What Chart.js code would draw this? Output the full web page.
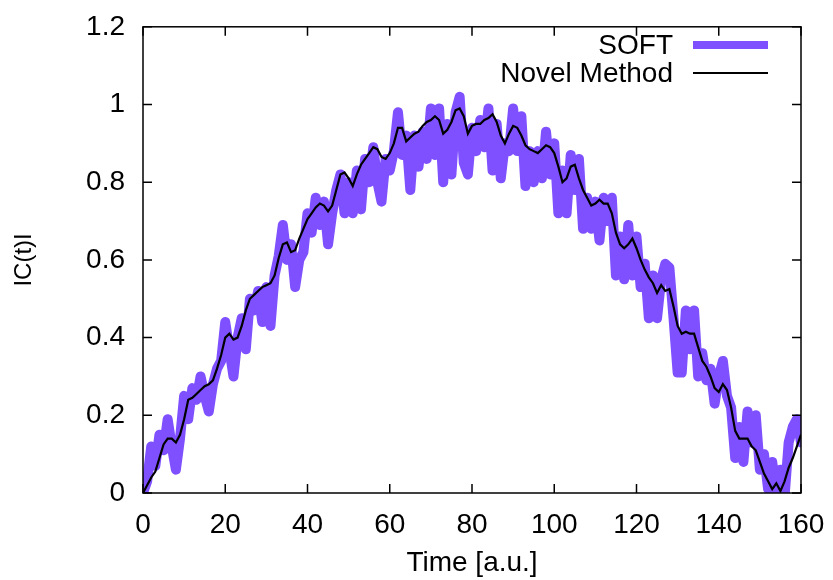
<!DOCTYPE html>
<html>
<head>
<meta charset="utf-8">
<script src="https://cdn.jsdelivr.net/npm/chart.js@4"></script>
<style>
  html, body { margin: 0; padding: 0; background: #fff; }
  #wrap { width: 833px; height: 580px; }
</style>
</head>
<body>
<div id="wrap"><canvas id="myChart"></canvas></div>
<script>
// ==============================|| DATA ||============================== //
const timeValues = [
  0,1,2,3,4,5,6,7,8,9,10,11,12,13,14,15,16,17,18,19,
  20,21,22,23,24,25,26,27,28,29,30,31,32,33,34,35,36,37,38,39,
  40,41,42,43,44,45,46,47,48,49,50,51,52,53,54,55,56,57,58,59,
  60,61,62,63,64,65,66,67,68,69,70,71,72,73,74,75,76,77,78,79,
  80,81,82,83,84,85,86,87,88,89,90,91,92,93,94,95,96,97,98,99,
  100,101,102,103,104,105,106,107,108,109,110,111,112,113,114,115,116,117,118,119,
  120,121,122,123,124,125,126,127,128,129,130,131,132,133,134,135,136,137,138,139,
  140,141,142,143,144,145,146,147,148,149,150,151,152,153,154,155,156,157,158,159,160
];

// SOFT flickers quickly between an upper and a lower level, which reads as a band
const softValues = [
  0.0,0.03,0.12,0.07,0.15,0.11,0.19,0.12,0.06,0.14,
  0.25,0.19,0.27,0.24,0.3,0.25,0.21,0.28,0.32,0.34,
  0.44,0.37,0.3,0.4,0.45,0.37,0.5,0.47,0.52,0.44,
  0.53,0.43,0.56,0.61,0.69,0.6,0.64,0.53,0.6,0.62,
  0.72,0.67,0.76,0.69,0.75,0.64,0.72,0.78,0.82,0.72,
  0.8,0.72,0.83,0.73,0.86,0.8,0.89,0.8,0.75,0.86,
  0.83,0.88,0.98,0.87,0.92,0.78,0.92,0.84,0.93,0.86,
  0.99,0.87,0.99,0.8,0.95,0.82,0.98,1.02,0.85,0.82,
  0.94,0.88,0.96,0.89,0.99,0.83,0.95,0.81,0.9,0.88,
  0.99,0.88,0.97,0.79,0.88,0.8,0.88,0.81,0.93,0.82,
  0.9,0.72,0.83,0.72,0.87,0.78,0.86,0.68,0.76,0.68,
  0.75,0.65,0.76,0.7,0.76,0.56,0.66,0.55,0.69,0.56,
  0.66,0.53,0.59,0.45,0.56,0.45,0.55,0.59,0.58,0.45,
  0.31,0.31,0.47,0.37,0.47,0.3,0.36,0.29,0.32,0.23,
  0.3,0.34,0.25,0.22,0.09,0.17,0.08,0.21,0.13,0.2,
  0.06,0.1,0.01,0.08,0.0,0.06,-0.01,0.13,0.17,0.19,0.13
];

const novelValues = [
  0.0,0.02,0.04,0.055,0.09,0.125,0.14,0.14,0.13,0.15,
  0.19,0.24,0.245,0.255,0.265,0.275,0.28,0.29,0.32,0.355,
  0.4,0.41,0.395,0.4,0.43,0.47,0.5,0.51,0.52,0.53,
  0.535,0.54,0.56,0.605,0.64,0.645,0.62,0.625,0.655,0.68,
  0.705,0.72,0.735,0.745,0.74,0.725,0.74,0.78,0.82,0.825,
  0.81,0.79,0.82,0.845,0.86,0.875,0.89,0.885,0.865,0.86,
  0.875,0.9,0.94,0.94,0.905,0.915,0.925,0.93,0.945,0.955,
  0.96,0.97,0.96,0.925,0.935,0.955,0.985,0.99,0.97,0.925,
  0.945,0.95,0.95,0.96,0.965,0.975,0.955,0.92,0.9,0.925,
  0.945,0.94,0.92,0.895,0.885,0.88,0.875,0.885,0.895,0.89,
  0.875,0.84,0.8,0.81,0.84,0.845,0.81,0.78,0.76,0.74,
  0.745,0.755,0.745,0.745,0.72,0.67,0.64,0.63,0.64,0.655,
  0.63,0.6,0.575,0.555,0.54,0.515,0.535,0.52,0.525,0.48,
  0.43,0.41,0.415,0.41,0.41,0.375,0.34,0.325,0.3,0.27,
  0.26,0.28,0.265,0.22,0.16,0.14,0.14,0.14,0.12,0.11,
  0.08,0.05,0.03,0.01,0.025,0.005,0.03,0.065,0.09,0.12,0.15
];

const xTickLabels = ['0', '20', '40', '60', '80', '100', '120', '140', '160'];
const yTickLabels = ['0', '0.2', '0.4', '0.6', '0.8', '1', '1.2'];

// constant
const FONT = 'Liberation Sans, Arial, Helvetica, sans-serif';
const SOFT_COLOR = '#7f50ff';

const toPoints = (xs, ys) => xs.map((x, i) => ({ x: x, y: ys[i] }));

// ==============================|| FRAME, INWARD TICKS & LEGEND ||============================== //
const framePlugin = {
  id: 'frame',
  afterDatasetsDraw(chart) {
    const { ctx, chartArea: a, scales } = chart;
    const tl = 9;
    ctx.save();
    ctx.strokeStyle = '#000';
    ctx.lineWidth = 1.5;
    ctx.strokeRect(a.left, a.top, a.right - a.left, a.bottom - a.top);
    ctx.beginPath();
    scales.x.ticks.forEach(t => {
      const px = scales.x.getPixelForValue(t.value);
      ctx.moveTo(px, a.bottom); ctx.lineTo(px, a.bottom - tl);
      ctx.moveTo(px, a.top); ctx.lineTo(px, a.top + tl);
    });
    scales.y.ticks.forEach(t => {
      const py = scales.y.getPixelForValue(t.value);
      ctx.moveTo(a.left, py); ctx.lineTo(a.left + tl, py);
      ctx.moveTo(a.right, py); ctx.lineTo(a.right - tl, py);
    });
    ctx.stroke();

    // legend, gnuplot style: text right-aligned, sample to the right
    const textRight = 673, sx0 = 693, sx1 = 768;
    ctx.font = '28px ' + FONT;
    ctx.textAlign = 'right';
    ctx.textBaseline = 'middle';
    ctx.fillStyle = '#000';
    chart.data.datasets.forEach((ds, i) => {
      const y = 45 + i * 28;
      ctx.fillText(ds.label, textRight, y + 1);
      ctx.beginPath();
      ctx.strokeStyle = ds.borderColor;
      ctx.lineWidth = ds.legendWidth;
      ctx.moveTo(sx0, y); ctx.lineTo(sx1, y);
      ctx.stroke();
    });
    ctx.restore();
  }
};

// ==============================|| CHART ||============================== //
new Chart(document.getElementById('myChart'), {
  type: 'line',
  data: {
    datasets: [
      {
        label: 'SOFT',
        data: toPoints(timeValues, softValues),
        borderColor: SOFT_COLOR,
        borderWidth: 10,
        legendWidth: 8,
        pointRadius: 0,
        tension: 0,
        borderJoinStyle: 'round',
        borderCapStyle: 'round',
        order: 2
      },
      {
        label: 'Novel Method',
        data: toPoints(timeValues, novelValues),
        borderColor: '#000000',
        borderWidth: 2.2,
        legendWidth: 2,
        pointRadius: 0,
        tension: 0,
        order: 1
      }
    ]
  },
  options: {
    responsive: true,
    maintainAspectRatio: false,
    animation: false,
    layout: { padding: { top: 17, right: 32, left: 0, bottom: 0 } },
    plugins: {
      legend: { display: false },
      tooltip: { enabled: false }
    },
    scales: {
      x: {
        type: 'linear',
        min: 0,
        max: 160,
        grid: { display: false },
        border: { display: false },
        ticks: {
          stepSize: 20,
          padding: 7,
          color: '#000',
          font: { family: FONT, size: 28 },
          callback: (v, i) => xTickLabels[i]
        },
        title: {
          display: true,
          text: 'Time [a.u.]',
          color: '#000',
          font: { family: FONT, size: 28 },
          padding: { top: 0, bottom: 0 }
        },
        afterFit: scale => { scale.height = 87; }
      },
      y: {
        min: 0,
        max: 1.2,
        grid: { display: false },
        border: { display: false },
        ticks: {
          stepSize: 0.2,
          padding: 10,
          color: '#000',
          font: { family: FONT, size: 28 },
          callback: (v, i) => yTickLabels[i]
        },
        title: {
          display: true,
          text: 'IC(t)I',
          color: '#000',
          font: { family: FONT, size: 24 },
          padding: { top: 10, bottom: 0 }
        },
        afterFit: scale => { scale.width = 143; }
      }
    }
  },
  plugins: [framePlugin]
});
</script>
</body>
</html>
